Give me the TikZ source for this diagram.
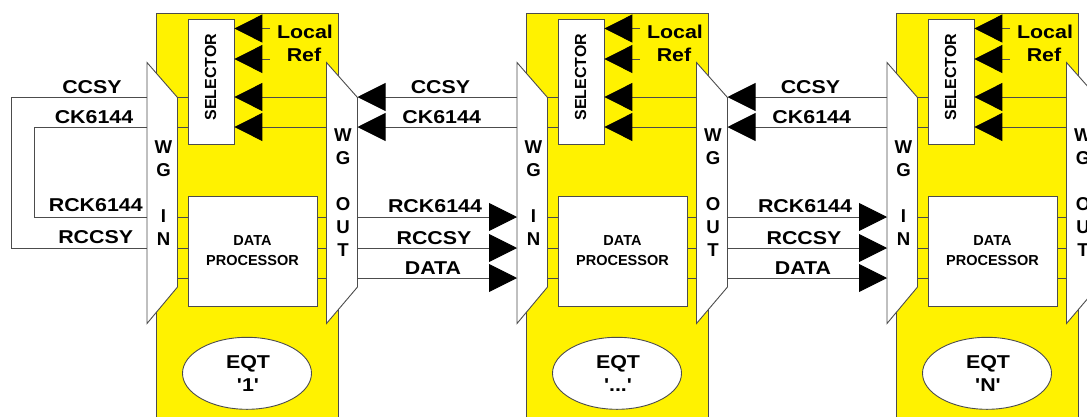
\documentclass[tikz,border=0pt]{standalone}
\usepackage{fontspec}
\newfontfamily\arialf{Liberation Sans}
\usetikzlibrary{arrows.meta,shapes.geometric}
\newcommand{\hst}[1]{\scalebox{1.15}[1]{#1}}
\newcommand{\eqdots}{'...'}
\tikzset{
  wire/.style={draw=black!70, line width=0.9pt},
  box/.style={draw=black!70, line width=0.9pt, fill=white},
  eqbox/.style={draw=black!70, line width=0.9pt, fill=yellow},
  lbl/.style={font=\arialf\bfseries\fontsize{18.6}{23}\selectfont, inner sep=0pt, text=black, align=center},
  wgtxt/.style={font=\arialf\bfseries\fontsize{18.6}{23}\selectfont, inner sep=0pt, text=black, align=center},
  small/.style={font=\arialf\bfseries\fontsize{14.5}{20}\selectfont, inner sep=0pt, text=black, align=center},
  seltxt/.style={font=\arialf\bfseries\fontsize{16}{18}\selectfont, inner sep=0pt, text=black},
  tip/.style={-{Triangle[length=28pt,width=28pt,color=black]}},
}
\begin{document}
\begin{tikzpicture}[x=1pt,y=-1pt]
\useasboundingbox (0,0) rectangle (1087,416);
\clip (0,0) rectangle (1087,416);
\foreach \k/\t in {0/'1',1/\eqdots,2/'N'}{
  \begin{scope}[xshift=370*\k]
    % equipment box
    \path[eqbox] (156,13.5) rectangle (338,430);
    % named coordinates on the waveguide edges
    \foreach \r/\yy in {a/97,b/127,c/217,d/248,e/278}{
      \coordinate (inL-\r\k) at (147,\yy);
      \coordinate (inR-\r\k) at (177.5,\yy);
      \coordinate (outL-\r\k) at (326.5,\yy);
      \coordinate (outR-\r\k) at (357.5,\yy);
    }
    \coordinate (refA\k) at (270,28.5);
    \coordinate (refB\k) at (270,59);
    % selector
    \node[box, rectangle, inner sep=0pt, minimum width=46pt, minimum height=125pt, anchor=north west] (sel\k) at (187.5,19) {};
    \node[seltxt, rotate=90] (selt\k) at (210.5,77) {SELECTOR};
    % data processor
    \node[box, rectangle, inner sep=0pt, minimum width=129pt, minimum height=110pt, anchor=north west] (dp\k) at (187.5,196) {};
    \node[small] (dpt\k) at (252.5,250.5) {DATA\\PROCESSOR};
    % EQT ellipse
    \node[box, ellipse, inner sep=0pt, minimum width=129pt, minimum height=72pt] (eqt\k) at (247,373.3) {};
    \node[lbl] (eqtt\k) at (248,373.5) {\hst{EQT}\\\hst{\t}};
    % local ref
    \node[lbl] (loc\k) at (305,32) {\hst{Local}};
    \node[lbl] (ref\k) at (304,54.5) {\hst{Ref}};
    % wires inside equipment
    \draw[wire] (inR-a\k) -- (sel\k.west |- inR-a\k);
    \draw[wire] (inR-b\k) -- (sel\k.west |- inR-b\k);
    \draw[wire, tip] (outL-a\k) -- (sel\k.east |- outL-a\k);
    \draw[wire, tip] (outL-b\k) -- (sel\k.east |- outL-b\k);
    \draw[wire, tip] (refA\k) -- (sel\k.east |- refA\k);
    \draw[wire, tip] (refB\k) -- (sel\k.east |- refB\k);
    \foreach \r in {c,d,e}{
      \draw[wire] (inR-\r\k) -- (dp\k.west |- inR-\r\k);
      \draw[wire] (dp\k.east |- outL-\r\k) -- (outL-\r\k);
    }
    % waveguides
    \draw[box] (147,62.5) -- (177.5,97.5) -- (177.5,287) -- (147,323.5) -- cycle;
    \draw[box] (326.5,62.5) -- (357.5,97.5) -- (357.5,287) -- (326.5,323.5) -- cycle;
    \node[wgtxt] (wgin\k) at (163.5,192.8) {W\\G\\\mbox{}\\I\\N};
    \node[wgtxt] (wgout\k) at (343,192.8) {W\\G\\\mbox{}\\O\\U\\T};
  \end{scope}
}
% links between equipments
\foreach \k in {0,1}{
  \pgfmathtruncatemacro{\n}{\k+1}
  \draw[wire, tip] (inL-a\n) -- (outR-a\k);
  \draw[wire, tip] (inL-b\n) -- (outR-b\k);
  \draw[wire, tip] (outR-c\k) -- (inL-c\n);
  \draw[wire, tip] (outR-d\k) -- (inL-d\n);
  \draw[wire, tip] (outR-e\k) -- (inL-e\n);
  \node[lbl] (ccsy\k) at ({440.5+370*\k},86.7) {\hst{CCSY}};
  \node[lbl] (ck\k) at ({441.7+370*\k},116.7) {\hst{CK6144}};
  \node[lbl] (rck\k) at ({435+370*\k},205.7) {\hst{RCK6144}};
  \node[lbl] (rccsy\k) at ({434+370*\k},237.7) {\hst{RCCSY}};
  \node[lbl] (data\k) at ({433+370*\k},268.3) {\hst{DATA}};
}
% loop-back at first equipment
\coordinate (loopA) at (11.7,97);
\coordinate (loopB) at (34.3,127);
\draw[wire] (inL-a0) -- (loopA) |- (inL-d0);
\draw[wire] (inL-b0) -- (loopB) |- (inL-c0);
\node[lbl] (ccsyL) at (92,86.7) {\hst{CCSY}};
\node[lbl] (ckL) at (94,116.7) {\hst{CK6144}};
\node[lbl] (rckL) at (95.8,205) {\hst{RCK6144}};
\node[lbl] (rccsyL) at (95.7,237.5) {\hst{RCCSY}};
\end{tikzpicture}
\end{document}
